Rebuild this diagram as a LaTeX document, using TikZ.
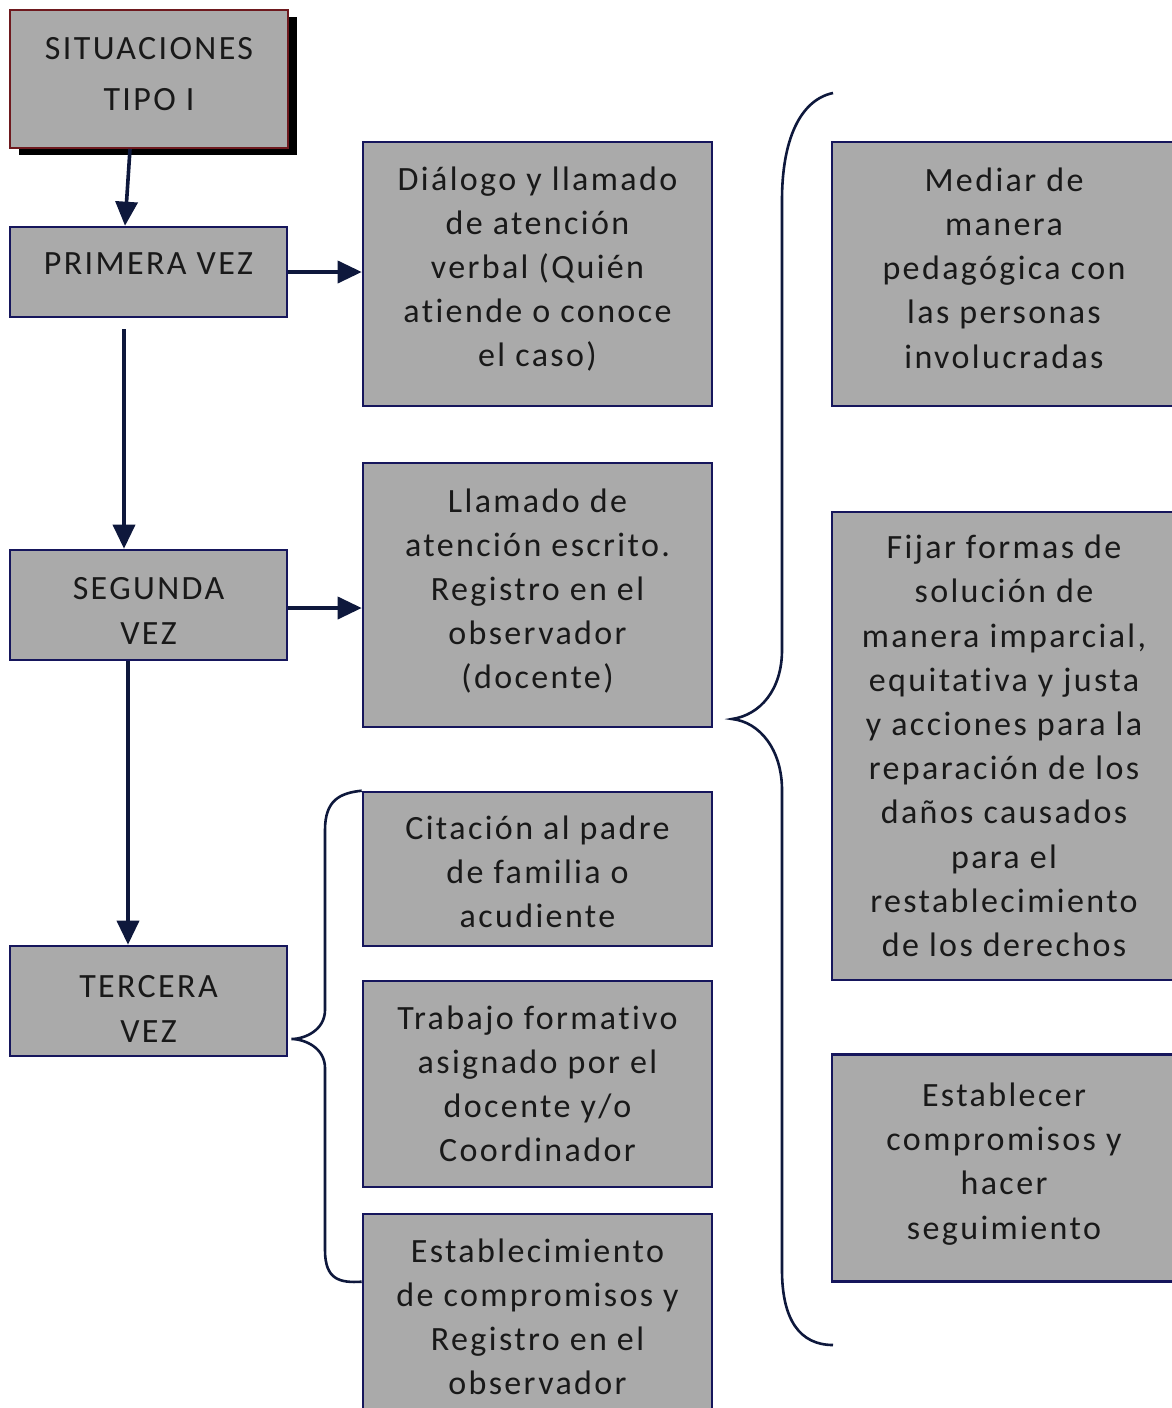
\documentclass[tikz,border=0pt]{standalone}
\usepackage{fontspec}
\setmainfont{Carlito}[LetterSpace=7.0, Ligatures={NoCommon}]
\usetikzlibrary{arrows.meta,shadows}
\definecolor{boxgrey}{RGB}{170,170,170}
\definecolor{navy}{RGB}{22,22,92}
\definecolor{arrowc}{RGB}{14,24,60}
\definecolor{sitred}{RGB}{110,25,30}
\begin{document}
\begin{tikzpicture}[x=0.5pt,y=-0.5pt,
  box/.style={draw=navy, fill=boxgrey, line width=1.3pt, inner sep=0pt, align=center,
    font=\fontsize{17}{22.1}\selectfont, text=black!90},
  arr/.style={draw=arrowc, line width=1.8pt, -{Triangle[length=12pt,width=11pt]}},
  brace/.style={draw=arrowc, line width=1.3pt}]
\clip (0,0) rectangle (1172,1408);
\fill[white] (0,0) rectangle (1172,1408);

% left column
\node[box, draw=sitred, line width=1pt, minimum width=139pt, minimum height=69pt,
  font=\fontsize{17}{25.5}\selectfont,
  drop shadow={shadow xshift=4.5pt, shadow yshift=-3.5pt, fill=black, opacity=1}]
  (sit) at (149,79) {SITUACIONES\\TIPO I\vspace{5pt}};
\node[box, minimum width=138.5pt, minimum height=45pt] (prim) at (148.5,272) {\raisebox{8pt}{PRIMERA VEZ}};
\node[box, minimum width=138.5pt, minimum height=55pt] (seg) at (148.5,605) {SEGUNDA\\VEZ\vspace{-6pt}};
\node[box, minimum width=138.5pt, minimum height=55pt] (ter) at (148.5,1001) {TERCERA\\VEZ\vspace{-8pt}};

% middle column
\node[box, minimum width=174.5pt, minimum height=132pt] (b1) at (537.5,274)
  {Diálogo y llamado\\de atención\\verbal (Quién\\atiende o conoce\\el caso)\vspace{5pt}};
\node[box, minimum width=174.5pt, minimum height=132pt] (b2) at (537.5,595)
  {Llamado de\\atención escrito.\\Registro en el\\observador\\(docente)\vspace{4pt}};
\node[box, minimum width=174.5pt, minimum height=77pt] (b3) at (537.5,869)
  {Citación al padre\\de familia o\\acudiente\vspace{-3pt}};
\node[box, minimum width=174.5pt, minimum height=103pt] (b4) at (537.5,1084)
  {Trabajo formativo\\asignado por el\\docente y/o\\Coordinador};
\node[box, minimum width=174.5pt, minimum height=103pt] (b5) at (537.5,1317)
  {Establecimiento\\de compromisos y\\Registro en el\\observador};

% right column
\node[box, minimum width=172pt, minimum height=132pt] (r1) at (1004,274)
  {Mediar de\\manera\\pedagógica con\\las personas\\involucradas\vspace{6pt}};
\node[box, minimum width=172pt, minimum height=234pt] (r2) at (1004,746)
  {Fijar formas de\\solución de\\manera imparcial,\\equitativa y justa\\y acciones para la\\reparación de los\\daños causados\\para el\\restablecimiento\\de los derechos};
\node[box, minimum width=172pt, minimum height=113.5pt] (r3) at (1004,1168)
  {Establecer\\compromisos y\\hacer\\seguimiento\vspace{4pt}};

% arrows
\draw[arr] ([xshift=-9.5pt]sit.south) -- ([xshift=-11.75pt]prim.north);
\draw[arr, shorten <=5.5pt] ([xshift=-12.25pt]prim.south) -- ([xshift=-12.25pt]seg.north);
\draw[arr] ([xshift=-10.25pt]seg.south) -- ([xshift=-10.25pt]ter.north);
\draw[arr] (prim.east) -- (b1.west |- prim.east);
\coordinate (segr) at ([yshift=-1.5pt]seg.east);
\draw[arr] (segr) -- (b2.west |- segr);

% brace from TERCERA VEZ
\coordinate (tip1) at ([xshift=1.5pt,yshift=-19pt]ter.east);
\coordinate (lb) at ([yshift=-34.5pt]b5.north west);
\draw[brace] (b3.north west) .. controls (340,793) and (325,800) .. (325,830)
  -- (325,1010) .. controls (325,1030) and (305,1039) .. (tip1)
  .. controls (305,1039) and (325,1048) .. (325,1068)
  -- (325,1250) .. controls (325,1280) and (340,1283) .. (lb);

% big brace
\coordinate (bt) at (833,93);
\coordinate (bb) at (833,1345);
\coordinate (btip) at (732,719);
\draw[brace] (bt) .. controls (800,100) and (782,140) .. (782,200)
  -- (782,650) .. controls (782,690) and (760,715) .. (btip)
  .. controls (760,722) and (782,750) .. (782,790)
  -- (782,1270) .. controls (782,1320) and (800,1345) .. (bb);
\end{tikzpicture}
\end{document}
